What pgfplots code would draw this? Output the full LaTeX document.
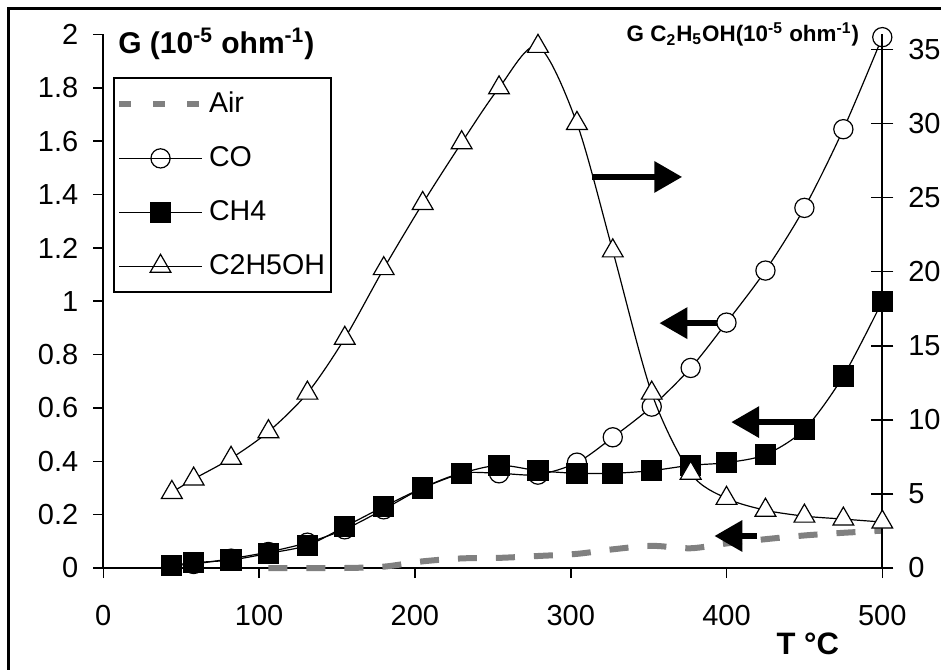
\documentclass[border=0pt]{standalone}
\usepackage{fontspec}
\setmainfont{Liberation Sans}
\usepackage{pgfplots}
\usepackage{pgfplotstable}
\pgfplotsset{compat=1.18}
\usetikzlibrary{arrows.meta}

% T (deg C) vs conductance, left axis
\pgfplotstableread{
T     co     ch4
44    0.010  0.010
58    0.015  0.020
82    0.035  0.030
106   0.060  0.055
131   0.095  0.085
155   0.145  0.155
180   0.220  0.230
205   0.300  0.300
230   0.355  0.355
254   0.355  0.385
279   0.350  0.365
304   0.395  0.355
327   0.490  0.355
352   0.605  0.365
377   0.750  0.385
400   0.920  0.395
425   1.115  0.425
450   1.350  0.520
475   1.645  0.720
500   1.990  1.000
}\gasdata

\pgfplotstableread{
T     air
106   0.000
131   0.000
155   0.000
180   0.005
205   0.025
230   0.036
254   0.038
279   0.045
304   0.053
327   0.070
352   0.083
377   0.074
400   0.092
425   0.108
450   0.122
475   0.132
500   0.140
}\airdata

% ethanol, right axis
\pgfplotstableread{
T     eth
44    5.1
58    6.0
82    7.4
106   9.2
131   11.8
155   15.5
180   20.2
205   24.6
230   28.7
254   32.4
279   35.2
304   30.0
327   21.4
352   11.8
377   6.4
400   4.7
425   3.9
450   3.5
475   3.3
500   3.1
}\ethdata

\definecolor{airgray}{RGB}{128,128,128}

\pgfplotsset{
  gplot/.style={
    width=389.5pt, height=266.75pt, scale only axis,
    xmin=0, xmax=500, clip=false,
    axis line style={-, line width=1pt},
    /pgf/number format/assume math mode=true,
    tick label style={font=\fontsize{14.5}{17}\selectfont},
    tick style={black, line width=0.8pt},
  },
  dline/.style={black, line width=0.6pt, smooth, tension=0.5},
  legend image code/.code={%
    \draw[mark repeat=2, mark phase=2] plot coordinates {(0pt,0pt) (20.75pt,0pt) (41.5pt,0pt)};},
}

\begin{document}
\begin{tikzpicture}
\begin{axis}[gplot,
    ymin=0, ymax=2,
    axis x line*=bottom, axis y line*=left,
    xtick={0,100,200,300,400,500},
    ytick={0,0.2,0.4,0.6,0.8,1,1.2,1.4,1.6,1.8,2},
    tick align=outside, major tick length=5pt,
    xticklabel style={yshift=-10pt},
    yticklabel style={xshift=-4pt},
    legend cell align=left,
    legend style={at={(0.0125,0.92)}, anchor=north west, draw=black, line width=1pt,
      fill=white, font=\fontsize{14.3}{17}\selectfont, row sep=11.5pt,
      inner xsep=1pt, inner ysep=5pt},
  ]
  \addlegendimage{airgray, line width=3pt, dash pattern=on 6pt off 11pt}
  \addlegendentry{Air}
  \addlegendimage{black, line width=0.6pt, mark=o, mark size=4.8pt, mark options={fill=white}}
  \addlegendentry{CO}
  \addlegendimage{black, line width=0.6pt, mark=square*, mark size=5pt}
  \addlegendentry{CH4}
  \addlegendimage{black, line width=0.6pt, mark=triangle, mark size=6pt, mark options={fill=white}}
  \addlegendentry{C2H5OH}

  \addplot[forget plot, airgray, line width=3pt, dash pattern=on 9.5pt off 9.5pt, smooth, tension=0.5]
    table[x=T, y=air] {\airdata};
  \addplot[forget plot, dline, mark=*, mark size=4.8pt, mark options={fill=white, solid}]
    table[x=T, y=co] {\gasdata};
  \addplot[forget plot, dline, mark=square*, mark size=5pt, mark options={fill=black, solid}]
    table[x=T, y=ch4] {\gasdata};

  \draw[line width=3.2pt, -{Triangle[length=14pt, width=15pt]}] (axis cs:313.9,1.466) -- (axis cs:371.6,1.466);
  \draw[line width=3.2pt, -{Triangle[length=14pt, width=15pt]}] (axis cs:403,0.918) -- (axis cs:356.9,0.918);
  \draw[line width=3.2pt, -{Triangle[length=14pt, width=15pt]}] (axis cs:448.5,0.547) -- (axis cs:403,0.547);
  \draw[line width=3.2pt, -{Triangle[length=14pt, width=15pt]}] (axis cs:419.7,0.12) -- (axis cs:392.2,0.12);

  \node[font=\bfseries\fontsize{15}{17}\selectfont, anchor=base west, inner sep=0pt]
    at (axis cs:9.4,1.93) {G (10\textsuperscript{-5} ohm\textsuperscript{-1})};
  \node[font=\bfseries\fontsize{11.2}{13}\selectfont, anchor=base west, inner sep=0pt]
    at (axis cs:335.7,1.973) {G C\textsubscript{2}H\textsubscript{5}OH(10\textsuperscript{-5} ohm\textsuperscript{-1})};
  \node[font=\bfseries\fontsize{15.5}{17}\selectfont, anchor=base west, inner sep=0pt]
    at (axis cs:431.9,-0.326) {T °C};
\end{axis}

\begin{axis}[gplot,
    ymin=0, ymax=36,
    axis x line=none, axis y line*=right,
    ytick={0,5,10,15,20,25,30,35},
    tick align=center, major tick length=11pt,
    yticklabel style={xshift=4pt},
  ]
  \addplot[dline, mark=triangle*, mark size=6pt, mark options={fill=white, solid}]
    table[x=T, y=eth] {\ethdata};
\end{axis}

% outer frame, cut off at right and bottom as in the original
\draw[line width=1.5pt] (-47.6pt,-80pt) -- (-47.6pt,279.5pt) -- (450pt,279.5pt);
\pgfresetboundingbox
\useasboundingbox (-51.65pt,-50.5pt) rectangle (418.85pt,284pt);
\end{tikzpicture}
\end{document}
